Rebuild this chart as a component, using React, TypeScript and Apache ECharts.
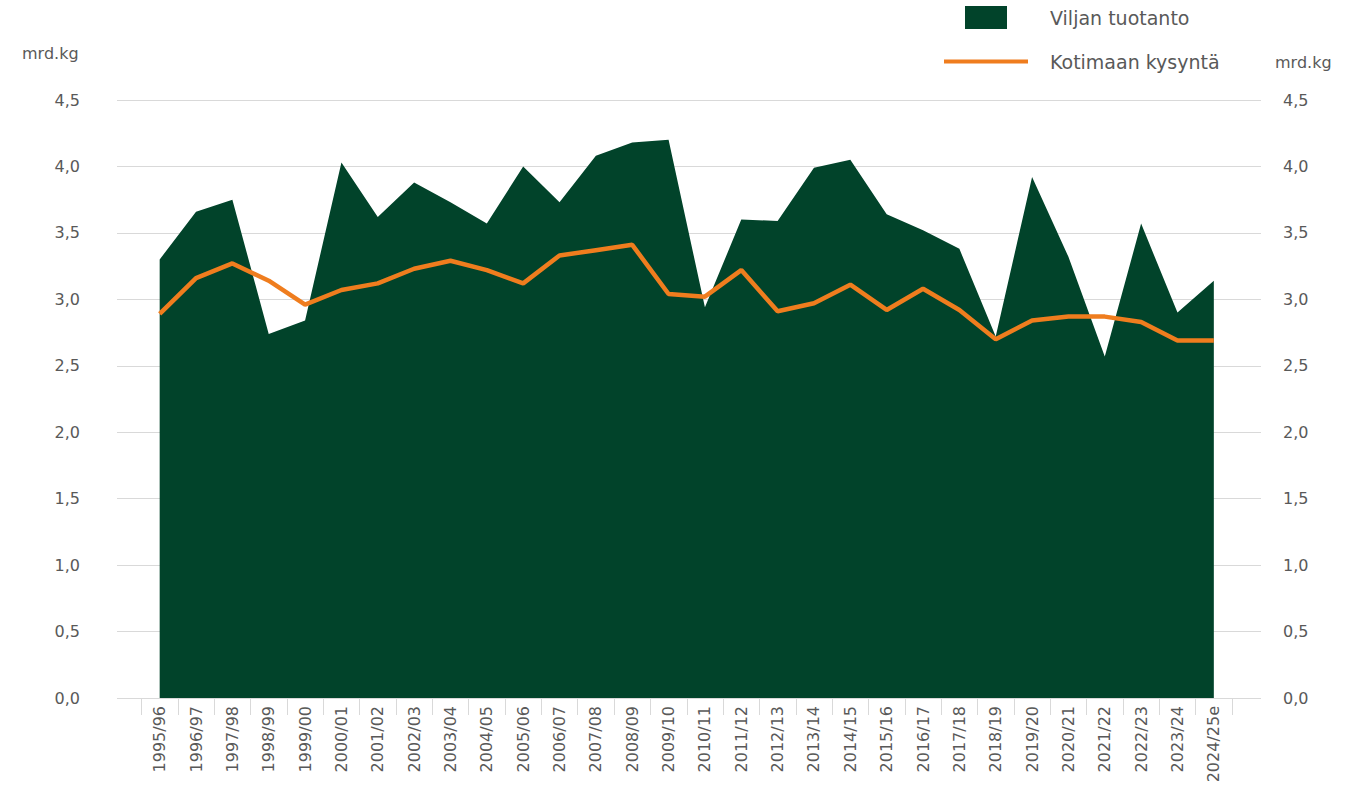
import React, { useEffect, useRef } from "react";
import * as echarts from "echarts";

const categories = [
  "1995/96", "1996/97", "1997/98", "1998/99", "1999/00", "2000/01", "2001/02", "2002/03",
  "2003/04", "2004/05", "2005/06", "2006/07", "2007/08", "2008/09", "2009/10", "2010/11",
  "2011/12", "2012/13", "2013/14", "2014/15", "2015/16", "2016/17", "2017/18", "2018/19",
  "2019/20", "2020/21", "2021/22", "2022/23", "2023/24", "2024/25e",
];

const production = [
  3.30, 3.66, 3.75, 2.74, 2.84, 4.03, 3.62, 3.88, 3.73, 3.57, 4.00, 3.73, 4.08, 4.18, 4.20,
  2.94, 3.60, 3.59, 3.99, 4.05, 3.64, 3.52, 3.38, 2.72, 3.92, 3.32, 2.57, 3.57, 2.90, 3.14,
];

const demand = [
  2.89, 3.16, 3.27, 3.14, 2.96, 3.07, 3.12, 3.23, 3.29, 3.22, 3.12, 3.33, 3.37, 3.41, 3.04,
  3.02, 3.22, 2.91, 2.97, 3.11, 2.92, 3.08, 2.92, 2.70, 2.84, 2.87, 2.87, 2.83, 2.69, 2.69,
];

const seriesNames = ["Viljan tuotanto", "Kotimaan kysyntä"];
const unitLabel = "mrd.kg";

const GREEN = "#01432A";
const ORANGE = "#EF7D1E";
const TEXT = "#595959";
const FONT = "'DejaVu Sans'";

export default function App() {
  const ref = useRef<HTMLDivElement>(null);
  useEffect(() => {
    if (!ref.current) return;
    const chart = echarts.init(ref.current, null, { renderer: "svg" });
    const fmt = (v: number) => v.toFixed(1).replace(".", ",");
    chart.setOption({
      animation: false,
      textStyle: { fontFamily: FONT },
      grid: [
        { left: 117, right: 94, top: 100, bottom: 88 },
        { left: 141.5, right: 123, top: 100, bottom: 88 },
      ],
      xAxis: [
        { type: "value", gridIndex: 0, show: false, min: 0, max: 1 },
        {
          type: "category",
          gridIndex: 1,
          data: categories,
          boundaryGap: true,
          axisLine: { show: true, lineStyle: { color: "#d9d9d9", width: 1 } },
          axisTick: { show: true, length: 17, lineStyle: { color: "#d9d9d9" } },
          axisLabel: {
            rotate: 90,
            interval: 0,
            margin: 8,
            color: TEXT,
            fontSize: 16,
            fontFamily: FONT,
          },
        },
      ],
      yAxis: [
        {
          type: "value",
          gridIndex: 0,
          position: "left",
          min: 0,
          max: 4.5,
          interval: 0.5,
          axisLine: { show: false },
          axisTick: { show: false },
          splitLine: { show: true, lineStyle: { color: "#d9d9d9", width: 1 } },
          axisLabel: { margin: 37, color: TEXT, fontSize: 16, fontFamily: FONT, formatter: fmt },
        },
        {
          type: "value",
          gridIndex: 0,
          position: "right",
          min: 0,
          max: 4.5,
          interval: 0.5,
          axisLine: { show: false },
          axisTick: { show: false },
          splitLine: { show: false },
          axisLabel: { margin: 22, color: TEXT, fontSize: 16, fontFamily: FONT, formatter: fmt },
        },
        {
          type: "value",
          gridIndex: 1,
          min: 0,
          max: 4.5,
          interval: 0.5,
          show: false,
          splitLine: { show: false },
        },
      ],
      legend: [
        {
          data: [{ name: seriesNames[0], icon: "rect", itemStyle: { color: GREEN } }],
          left: 965,
          top: 6,
          itemWidth: 42,
          itemHeight: 23,
          padding: 0,
          selectedMode: false,
          textStyle: { color: TEXT, fontSize: 19, fontFamily: FONT, padding: [0, 0, 0, 38] },
        },
        {
          data: [{ name: seriesNames[1], icon: "rect", itemStyle: { color: ORANGE } }],
          left: 944,
          top: 52,
          itemWidth: 84,
          itemHeight: 4,
          padding: 0,
          selectedMode: false,
          textStyle: { color: TEXT, fontSize: 19, fontFamily: FONT, padding: [0, 0, 0, 17] },
        },
      ],
      graphic: [
        {
          type: "text",
          left: 22,
          top: 45,
          style: { text: unitLabel, fill: TEXT, font: `16px ${FONT}` },
        },
        {
          type: "text",
          left: 1275,
          top: 54,
          style: { text: unitLabel, fill: TEXT, font: `16px ${FONT}` },
        },
      ],
      series: [
        {
          name: seriesNames[0],
          type: "line",
          xAxisIndex: 1,
          yAxisIndex: 2,
          data: production,
          symbol: "none",
          lineStyle: { width: 0, color: GREEN },
          itemStyle: { color: GREEN },
          areaStyle: { color: GREEN, opacity: 1 },
          z: 2,
        },
        {
          name: seriesNames[1],
          type: "line",
          xAxisIndex: 1,
          yAxisIndex: 2,
          data: demand,
          symbol: "none",
          lineStyle: { width: 4.5, color: ORANGE },
          itemStyle: { color: ORANGE },
          z: 3,
        },
      ],
    });
    return () => chart.dispose();
  }, []);
  return (
    <div
      ref={ref}
      style={{ position: "absolute", left: 0, top: 0, width: 1355, height: 786 }}
    />
  );
}
